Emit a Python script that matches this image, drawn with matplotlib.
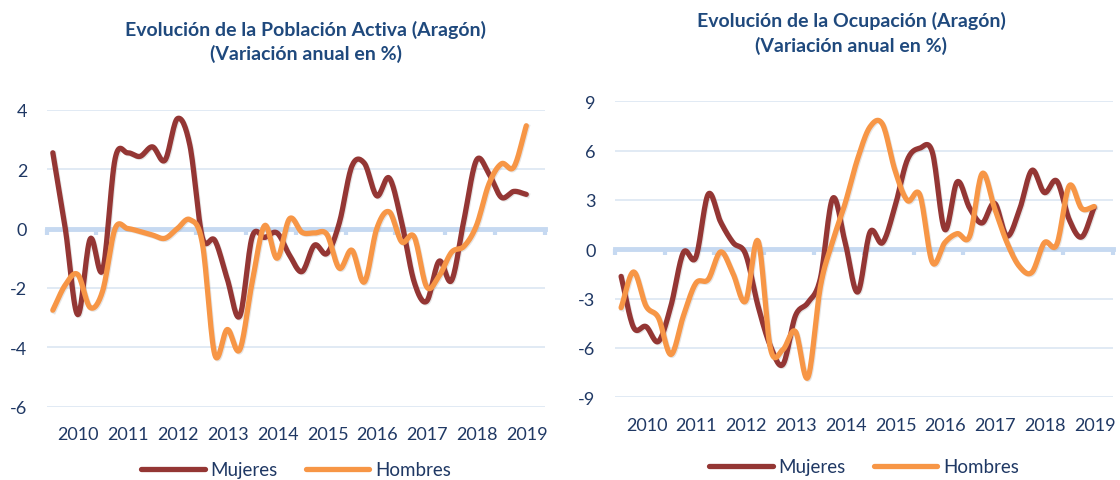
import numpy as np
import matplotlib
matplotlib.use('Agg')
import matplotlib.pyplot as plt
from matplotlib.transforms import ScaledTranslation

plt.rcParams['font.family'] = ['Lato', 'DejaVu Sans']

# Datos trimestrales (variación anual en %), 2010T1 - 2019T3
years = ['2010', '2011', '2012', '2013', '2014', '2015', '2016', '2017', '2018', '2019']

activa_mujeres = [2.55, 0.0, -2.9, -0.35, -1.4, 2.35, 2.55, 2.43, 2.75, 2.3,
                  3.7, 2.8, -0.3, -0.4, -1.7, -2.95, -0.28, -0.3, -0.15, -0.9,
                  -1.45, -0.56, -0.84, 0.2, 2.1, 2.2, 1.1, 1.7, 0.2, -1.8,
                  -2.45, -1.1, -1.75, 0.3, 2.3, 1.84, 1.05, 1.25, 1.15]
activa_hombres = [-2.75, -1.9, -1.55, -2.66, -2.1, 0.0, 0.0, -0.1, -0.22, -0.33,
                  0.0, 0.3, -0.5, -4.25, -3.4, -4.08, -1.8, 0.1, -1.0, 0.33,
                  -0.13, -0.15, -0.2, -1.34, -0.73, -1.8, 0.0, 0.56, -0.45, -0.28,
                  -1.96, -1.6, -0.8, -0.6, 0.1, 1.5, 2.18, 2.07, 3.46]

ocup_mujeres = [-1.65, -4.75, -4.7, -5.6, -3.45, -0.2, -0.5, 3.35, 1.65, 0.4,
                -0.3, -3.45, -5.9, -7.0, -4.05, -3.25, -1.8, 3.1, 0.4, -2.6,
                1.05, 0.4, 2.6, 5.45, 6.15, 5.9, 1.2, 4.1, 2.5, 1.6,
                2.8, 0.8, 2.4, 4.8, 3.45, 4.15, 1.8, 0.75, 2.55]
ocup_hombres = [-3.55, -1.38, -3.45, -4.17, -6.4, -4.06, -2.07, -1.83, -0.16, -1.5,
                -3.15, 0.5, -6.05, -6.1, -5.0, -7.8, -2.3, 0.5, 2.8, 5.5,
                7.45, 7.6, 4.8, 2.96, 3.3, -0.8, 0.4, 0.95, 0.8, 4.6,
                2.5, 0.4, -1.05, -1.4, 0.4, 0.3, 3.86, 2.48, 2.6]

c_muj = '#943634'
c_hom = '#F79646'
c_txt = '#1F3864'
c_tit = '#1F497D'
c_grid = '#DCE6F2'
c_zero = '#C6D9F1'


def suavizar(vals, n=16):
    # curva Catmull-Rom como las líneas suavizadas de Excel
    p = np.asarray(vals, dtype=float)
    x = np.arange(len(p)) + 0.5
    pp = np.concatenate([[2 * p[0] - p[1]], p, [2 * p[-1] - p[-2]]])
    xs, ys = [], []
    for i in range(len(p) - 1):
        p0, p1, p2, p3 = pp[i], pp[i + 1], pp[i + 2], pp[i + 3]
        t = np.linspace(0, 1, n, endpoint=False)
        y = 0.5 * (2 * p1 + (-p0 + p2) * t + (2 * p0 - 5 * p1 + 4 * p2 - p3) * t ** 2
                   + (-p0 + 3 * p1 - 3 * p2 + p3) * t ** 3)
        xs.append(x[i] + t)
        ys.append(y)
    xs.append([x[-1]])
    ys.append([p[-1]])
    return np.concatenate(xs), np.concatenate(ys)


def dibujar(ax, muj, hom, yticks):
    n = len(years) * 4
    ax.set_xlim(0, n)
    ax.set_ylim(yticks[0], yticks[-1])
    ax.set_yticks(yticks)
    ax.set_yticklabels([str(v) for v in yticks])
    for v in yticks:
        if v != 0:
            ax.axhline(v, color=c_grid, lw=1.2, zorder=1)
    for s in ['top', 'right', 'left']:
        ax.spines[s].set_visible(False)
    ax.spines['bottom'].set_position(('data', 0))
    ax.spines['bottom'].set_color(c_zero)
    ax.spines['bottom'].set_linewidth(3.5)
    ax.spines['bottom'].set_zorder(1)
    ax.set_xticks(np.arange(0, n + 1, 4))
    ax.tick_params(axis='x', length=4, width=3, color=c_zero, labelbottom=False)
    ax.tick_params(axis='y', length=0, labelsize=13, labelcolor=c_txt, pad=14)

    sec = ax.secondary_xaxis(0.0)
    sec.set_xticks(np.arange(len(years)) * 4 + 2.55)
    sec.set_xticklabels(years)
    sec.tick_params(length=0, labelsize=13, labelcolor=c_txt, pad=14)
    sec.spines['bottom'].set_visible(False)

    xm, ym = suavizar(muj)
    xh, yh = suavizar(hom)
    sombra = ax.transData + ScaledTranslation(1 / 100, -1 / 100, ax.figure.dpi_scale_trans)
    ax.plot(xm, ym, color='#999999', lw=3.8, alpha=0.25, zorder=2, transform=sombra)
    ax.plot(xh, yh, color='#999999', lw=3.8, alpha=0.25, zorder=2, transform=sombra)
    lm, = ax.plot(xm, ym, color=c_muj, lw=3.8, zorder=3, solid_capstyle='round', label='Mujeres')
    lh, = ax.plot(xh, yh, color=c_hom, lw=3.8, zorder=4, solid_capstyle='round', label='Hombres')
    return lm, lh


fig = plt.figure(figsize=(11.2, 4.81), dpi=100)
ax1 = fig.add_axes([0.0416, 0.1524, 0.445, 0.6174])
ax2 = fig.add_axes([0.549, 0.172, 0.4446, 0.6154])

lm, lh = dibujar(ax1, activa_mujeres, activa_hombres, [-6, -4, -2, 0, 2, 4])
dibujar(ax2, ocup_mujeres, ocup_hombres, [-9, -6, -3, 0, 3, 6, 9])

fig.text(0.2732, 0.9127, 'Evolución de la Población Activa (Aragón)\n(Variación anual en %)',
         ha='center', va='center', fontsize=14, fontweight='bold', color=c_tit, linespacing=1.45)
fig.text(0.7598, 0.9304, 'Evolución de la Ocupación (Aragón)\n(Variación anual en %)',
         ha='center', va='center', fontsize=14, fontweight='bold', color=c_tit, linespacing=1.45)

for ax, yl in [(ax1, -0.212), (ax2, -0.235)]:
    ax.legend(handles=[lm, lh], loc='center', bbox_to_anchor=(0.5, yl), ncol=2, frameon=False,
              fontsize=13.5, handlelength=3.4, handletextpad=0.3, columnspacing=1.5,
              labelcolor=c_txt)

fig.savefig('out.png', dpi=100)
